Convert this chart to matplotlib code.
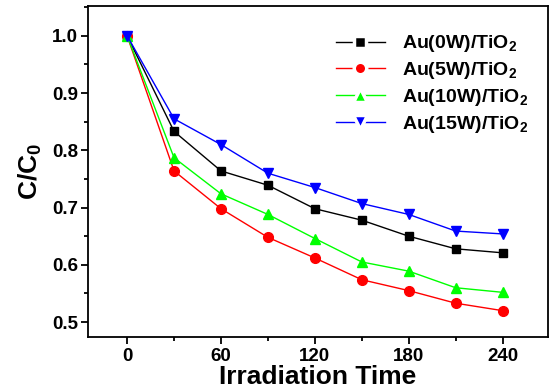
import matplotlib
matplotlib.use("Agg")
import matplotlib.pyplot as plt
from matplotlib.lines import Line2D
from matplotlib.ticker import MultipleLocator

plt.rcParams["font.family"] = ["Liberation Sans", "DejaVu Sans"]
plt.rcParams["font.weight"] = "bold"
plt.rcParams["mathtext.default"] = "regular"

# данные
time = [0, 30, 60, 90, 120, 150, 180, 210, 240]
au_0w = [1.0, 0.833, 0.764, 0.739, 0.698, 0.678, 0.650, 0.628, 0.621]
au_5w = [1.0, 0.764, 0.698, 0.648, 0.612, 0.574, 0.555, 0.533, 0.520]
au_10w = [1.0, 0.787, 0.724, 0.688, 0.646, 0.605, 0.589, 0.560, 0.552]
au_15w = [1.0, 0.855, 0.810, 0.760, 0.735, 0.707, 0.688, 0.659, 0.654]
labels = ["Au(0W)/TiO$_2$", "Au(5W)/TiO$_2$", "Au(10W)/TiO$_2$", "Au(15W)/TiO$_2$"]

series = [
    (au_0w, "#000000", "s", 6),
    (au_5w, "#ff0000", "o", 7),
    (au_10w, "#00ff00", "^", 7.5),
    (au_15w, "#0000ff", "v", 7.5),
]

fig = plt.figure(figsize=(5.49, 3.92), dpi=100)
ax = fig.add_axes([88 / 549, 1 - 337 / 392, 460 / 549, 331 / 392])

handles = []
for (vals, color, marker, ms), lab in zip(series, labels):
    ax.plot(time, vals, color=color, marker=marker, markersize=ms, linewidth=1)
    # в легенде линия с разрывом вокруг маркера (как в Origin)
    handles.append(Line2D([], [], color=color, marker=marker, markersize=ms + 2,
                          markerfacecolor=color, markeredgecolor="white",
                          markeredgewidth=2.5, linewidth=1, label=lab))

ax.set_xlim(-25, 269)
ax.set_ylim(0.474, 1.052)
ax.xaxis.set_major_locator(MultipleLocator(60))
ax.xaxis.set_minor_locator(MultipleLocator(30))
ax.yaxis.set_major_locator(MultipleLocator(0.1))
ax.yaxis.set_minor_locator(MultipleLocator(0.05))
ax.yaxis.set_major_formatter(plt.FuncFormatter(lambda v, _: f"{v:.1f}"))

ax.tick_params(which="both", direction="out", top=False, right=False, width=1.3)
ax.tick_params(which="major", length=5, labelsize=13.5)
ax.tick_params(axis="y", which="major", pad=2)
ax.tick_params(axis="x", which="major", pad=3)
ax.tick_params(which="minor", length=3)
for spine in ax.spines.values():
    spine.set_linewidth(1.3)

ax.set_xlabel("Irradiation Time", fontsize=19, fontweight="bold", labelpad=0)
ax.set_ylabel("C/C$_0$", fontsize=19, fontweight="bold", labelpad=6)

ax.legend(handles=handles, loc="upper right", bbox_to_anchor=(0.995, 0.97),
          frameon=False, handlelength=2.5, labelspacing=0.3, handletextpad=0.9,
          prop={"weight": "bold", "size": 14})

fig.savefig("out.png", dpi=100)
